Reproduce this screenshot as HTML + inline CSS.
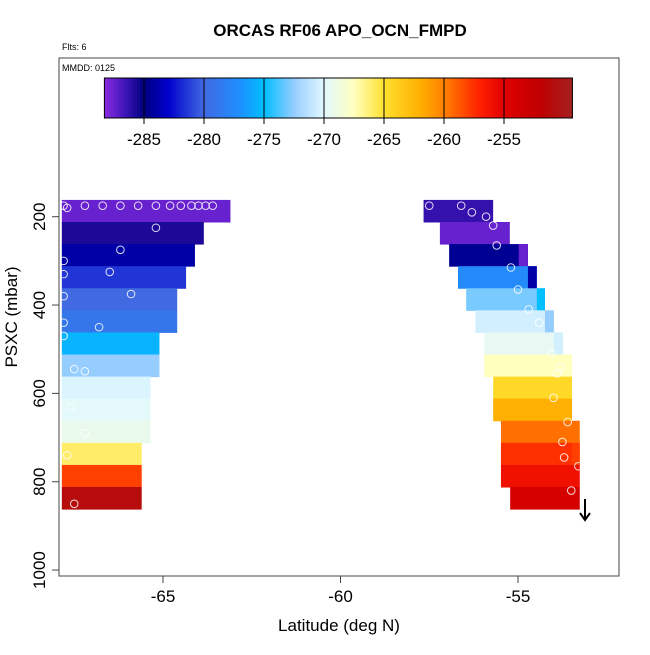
<!DOCTYPE html>
<html><head><meta charset="utf-8"><style>
body{margin:0;background:#fff;}
svg text{font-family:"Liberation Sans",Arial,sans-serif;}
</style></head><body>
<svg id="chart" width="650" height="650" viewBox="0 0 650 650" xmlns="http://www.w3.org/2000/svg">
<text x="340" y="36" text-anchor="middle" font-size="17" font-weight="bold">ORCAS RF06 APO_OCN_FMPD</text>
<text x="62" y="50" font-size="9">Flts: 6</text>
<g id="cells"></g>
<g id="circles"></g>
<rect x="59" y="58" width="560" height="518" fill="none" stroke="#444" stroke-width="1"/>
<text x="62" y="71" font-size="9">MMDD: 0125</text>
<g id="cbar"></g>
<g id="axes"></g>
<text x="339" y="631" text-anchor="middle" font-size="17">Latitude (deg N)</text>
<text transform="translate(17,317) rotate(-90)" text-anchor="middle" font-size="17">PSXC (mbar)</text>
<g>
<line x1="585" y1="499" x2="585" y2="520" stroke="#000" stroke-width="2"/>
<polyline points="580,513 585,520 590,513" fill="none" stroke="#000" stroke-width="2"/>
</g>
</svg>
<script>
const NS='http://www.w3.org/2000/svg';
const xTicks=[-65,-60,-55];
const yTicks=[200,400,600,800,1000];
const cbTicks=[-285,-280,-275,-270,-265,-260,-255];
const rowPressures=[162,212,262,312,362,412,462,512,562,612,662,712,762,812];
const leftStart=-67.85;
const leftEnd=[-63.1,-63.85,-64.1,-64.35,-64.6,-64.6,-65.1,-65.1,-65.35,-65.35,-65.35,-65.6,-65.6,-65.6];
const leftVals=[-287.5,-285.7,-284,-281.5,-280,-279,-275.5,-272.5,-270.2,-269.8,-269.3,-266,-258,-251];
const rightStart=[-57.66,-57.2,-56.94,-56.69,-56.46,-56.2,-55.95,-55.95,-55.7,-55.7,-55.48,-55.48,-55.48,-55.22];
const rightEnd=[-55.7,-55.23,-54.72,-54.47,-54.24,-53.99,-53.73,-53.48,-53.48,-53.48,-53.26,-53.26,-53.26,-53.26];
const rightVals=[-286.3,-287.5,-284.5,-277.5,-273,-270.5,-269.5,-267.5,-264.5,-262,-259.5,-257.5,-256,-254];
const rightTailStart=[null,null,-54.98,-54.72,-54.47,-54.24,-53.99,null,null,null,null,-53.48,null,null];
const rightTailVals=[null,null,-287.5,-284,-275,-272.5,-270.5,null,null,null,null,-258,null,null];
const ptLat=[-67.8,-67.7,-67.2,-66.7,-66.2,-65.7,-65.2,-64.8,-64.5,-64.2,-64,-63.8,-63.6,-65.2,-66.2,-67.8,-67.8,-66.5,-67.8,-65.9,-67.8,-66.8,-67.8,-67.2,-67.5,-67.6,-67.2,-67.7,-67.5,
 -57.5,-56.6,-56.3,-55.9,-55.7,-55.6,-55.2,-55,-54.7,-54.4,-54.05,-53.8,-53.9,-54,-53.6,-53.75,-53.7,-53.3,-53.5,-53.2];
const ptP=[175,180,175,175,175,175,175,175,175,175,175,175,175,225,275,300,330,325,380,375,440,450,470,550,545,630,690,740,850,
 175,175,190,200,220,265,315,365,410,440,510,540,555,610,665,710,745,765,820];
const X=v=>163+(v+65)*35.5;
const Y=p=>216.7+(p-200)*0.4417;
const CB=v=>324+(v+270)*12;
const stops=[[-288.3,[138,43,226]],[-286.5,[60,20,180]],[-285,[0,0,128]],[-283,[0,0,205]],[-280,[65,105,225]],[-277,[30,144,255]],[-275,[0,191,255]],[-272.5,[150,205,255]],[-270,[225,248,255]],[-267.5,[255,255,190]],[-265,[255,224,48]],[-262,[255,176,0]],[-260,[255,128,0]],[-257,[255,32,0]],[-255,[224,0,0]],[-252,[192,0,0]],[-249.3,[165,32,32]]];
function col(v){
 if(v<=stops[0][0])return 'rgb('+stops[0][1]+')';
 for(let i=1;i<stops.length;i++){if(v<=stops[i][0]){const a=stops[i-1],b=stops[i],t=(v-a[0])/(b[0]-a[0]);
  return 'rgb('+a[1].map((c,k)=>Math.round(c+(b[1][k]-c)*t)).join(',')+')';}}
 return 'rgb('+stops[stops.length-1][1]+')';
}
function mk(tag,attrs,parent){const e=document.createElementNS(NS,tag);for(const k in attrs)e.setAttribute(k,attrs[k]);parent.appendChild(e);return e;}
const cells=document.getElementById('cells');
rowPressures.forEach((p,i)=>{
 const y=Y(p),h=Y(p+50)-Y(p);
 let r=mk('rect',{x:X(leftStart),y:y,width:X(leftEnd[i])-X(leftStart),height:h+0.5,fill:col(leftVals[i])},cells);
 
 
 r=mk('rect',{x:X(rightStart[i]),y:y,width:X(rightEnd[i])-X(rightStart[i]),height:h+0.5,fill:col(rightVals[i])},cells);
 
 
 if(rightTailStart[i]!==null){
  r=mk('rect',{x:X(rightTailStart[i]),y:y,width:X(rightEnd[i])-X(rightTailStart[i]),height:h+0.5,fill:col(rightTailVals[i])},cells);
  
  
 }
});
const circ=document.getElementById('circles');
ptLat.forEach((la,i)=>{
 const c=mk('circle',{cx:X(la),cy:Y(ptP[i]),r:3.8,fill:'none',stroke:'#fff','stroke-opacity':0.85,'stroke-width':1},circ);
 
 
});
const cb=document.getElementById('cbar');
for(let v=-288.3;v<-249.3;v+=0.25){
 const s=mk('rect',{x:CB(v),y:78,width:3.3,height:40,fill:col(v+0.125)},cb);
 
 
}
mk('rect',{x:CB(-288.3),y:78,width:CB(-249.3)-CB(-288.3),height:40,fill:'none',stroke:'#000','stroke-width':1},cb);
cbTicks.forEach(v=>{
 mk('line',{x1:CB(v),x2:CB(v),y1:78,y2:124,stroke:'#000','stroke-width':1},cb);
 const t=mk('text',{x:CB(v),y:145,'text-anchor':'middle','font-size':17},cb);t.textContent=v;
 
 
});
const ax=document.getElementById('axes');
xTicks.forEach(v=>{
 mk('line',{x1:X(v),x2:X(v),y1:576,y2:583,stroke:'#444'},ax);
 const t=mk('text',{x:X(v),y:602,'text-anchor':'middle','font-size':17},ax);t.textContent=v;
 
 
});
yTicks.forEach(v=>{
 mk('line',{x1:52,x2:59,y1:Y(v),y2:Y(v),stroke:'#444'},ax);
 const t=mk('text',{transform:'translate(45,'+Y(v)+') rotate(-90)','text-anchor':'middle','font-size':17},ax);t.textContent=v;
 
 
});
</script>
</body></html>
